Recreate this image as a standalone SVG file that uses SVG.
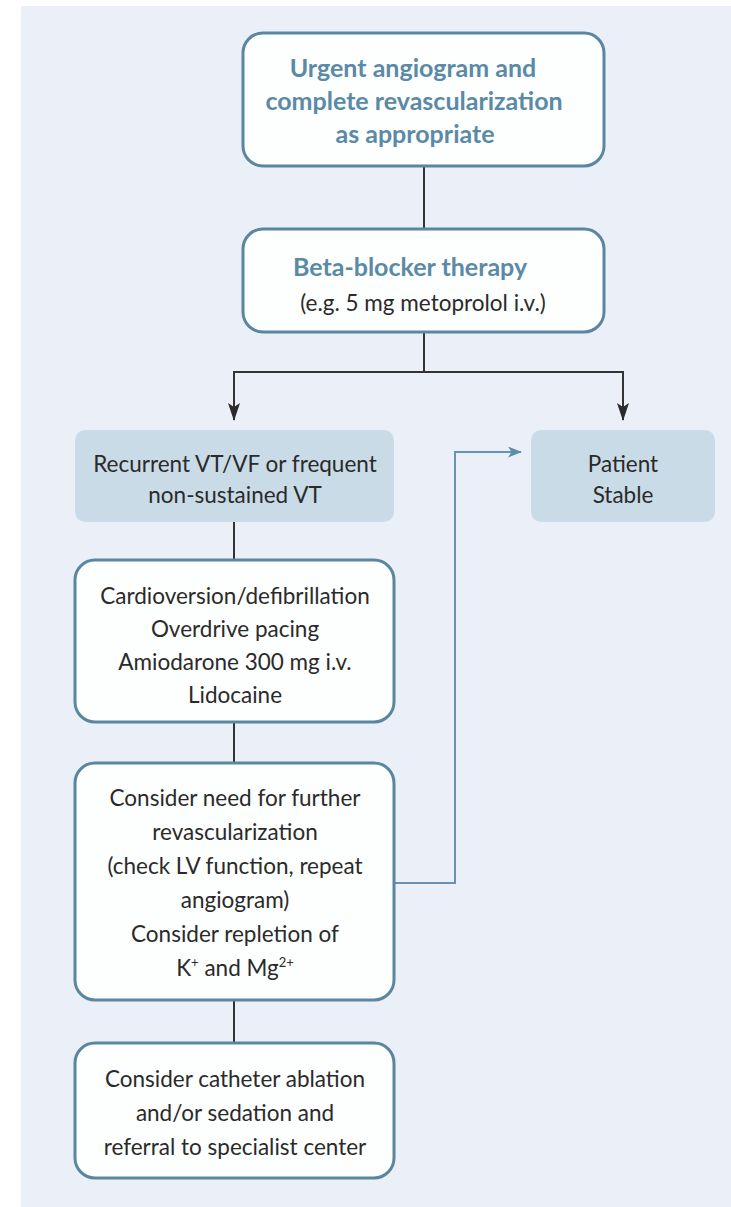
<svg xmlns="http://www.w3.org/2000/svg" width="731" height="1207" viewBox="0 0 731 1207">
  <defs>
    <!-- arrowheads drawn pointing along +x so orient="auto" follows the line -->
    <marker id="arrDark" viewBox="0 0 18 12" markerWidth="18" markerHeight="12" refX="17" refY="6" orient="auto" markerUnits="userSpaceOnUse">
      <path d="M0,0 L18,6 L0,12 L4,6 Z" fill="#2b2b2b"/>
    </marker>
    <marker id="arrBlue" viewBox="0 0 14 11" markerWidth="14" markerHeight="11" refX="13" refY="5.5" orient="auto" markerUnits="userSpaceOnUse">
      <path d="M0,0 L14,5.5 L0,11 L3.5,5.5 Z" fill="#5f8eab"/>
    </marker>
  </defs>
  <style>
    .panel { fill: #ebf0f8; }
    .box { fill: #fdfefe; stroke: #5b86a0; stroke-width: 3; }
    .shade { fill: #c8dbe7; }
    .head { font-family: Lato, "Open Sans", sans-serif; font-weight: bold; font-size: 25px; fill: #5a8aa6; text-anchor: middle; }
    .body { font-family: Lato, "Open Sans", sans-serif; font-size: 22.5px; fill: #2a2a2a; text-anchor: middle; }
    .sup { font-size: 13px; }
    .link { fill: none; stroke: #333333; stroke-width: 2; }
    .linkBlue { fill: none; stroke: #6a93ad; stroke-width: 2; }
  </style>

  <rect class="panel" x="21" y="6" width="710" height="1201"/>

  <!-- connectors -->
  <g id="connectors">
    <line class="link" x1="424" y1="166" x2="424" y2="229"/>
    <path class="link" d="M424,332 V372 M233,372 H624"/>
    <line class="link" x1="234" y1="372" x2="234" y2="420" marker-end="url(#arrDark)"/>
    <line class="link" x1="623" y1="372" x2="623" y2="420" marker-end="url(#arrDark)"/>
    <line class="link" x1="234" y1="522" x2="234" y2="560"/>
    <line class="link" x1="234" y1="722" x2="234" y2="763"/>
    <line class="link" x1="234" y1="1000" x2="234" y2="1043"/>
    <path class="linkBlue" d="M394,883 H455 V452 H521" marker-end="url(#arrBlue)"/>
  </g>

  <g id="node-angiogram">
    <rect class="box" x="243" y="33" width="361" height="133" rx="20"/>
    <text class="head" x="413" y="77">Urgent angiogram and</text>
    <text class="head" x="414" y="110">complete revascularization</text>
    <text class="head" x="415" y="143">as appropriate</text>
  </g>

  <g id="node-betablocker">
    <rect class="box" x="243" y="229" width="361" height="103" rx="20"/>
    <text class="head" x="410" y="276">Beta-blocker therapy</text>
    <text class="body" x="423" y="311">(e.g. 5 mg metoprolol i.v.)</text>
  </g>

  <g id="node-recurrent">
    <rect class="shade" x="75" y="430" width="319" height="92" rx="10"/>
    <text class="body" x="235" y="472">Recurrent VT/VF or frequent</text>
    <text class="body" x="235" y="503">non-sustained VT</text>
  </g>

  <g id="node-stable">
    <rect class="shade" x="531" y="430" width="184" height="92" rx="10"/>
    <text class="body" x="623" y="472">Patient</text>
    <text class="body" x="623" y="503">Stable</text>
  </g>

  <g id="node-cardioversion">
    <rect class="box" x="75" y="560" width="319" height="162" rx="20"/>
    <text class="body" x="235" y="604">Cardioversion/defibrillation</text>
    <text class="body" x="235" y="637">Overdrive pacing</text>
    <text class="body" x="235" y="670">Amiodarone 300 mg i.v.</text>
    <text class="body" x="235" y="703">Lidocaine</text>
  </g>

  <g id="node-revascularization">
    <rect class="box" x="75" y="763" width="319" height="237" rx="20"/>
    <text class="body" x="235" y="806">Consider need for further</text>
    <text class="body" x="235" y="840">revascularization</text>
    <text class="body" x="235" y="874">(check LV function, repeat</text>
    <text class="body" x="235" y="908">angiogram)</text>
    <text class="body" x="235" y="942">Consider repletion of</text>
    <text class="body" x="235" y="976">K<tspan class="sup" dy="-9">+</tspan><tspan dy="9"> and Mg</tspan><tspan class="sup" dy="-9">2+</tspan></text>
  </g>

  <g id="node-ablation">
    <rect class="box" x="75" y="1043" width="319" height="135" rx="20"/>
    <text class="body" x="235" y="1087">Consider catheter ablation</text>
    <text class="body" x="235" y="1121">and/or sedation and</text>
    <text class="body" x="235" y="1155">referral to specialist center</text>
  </g>
</svg>
